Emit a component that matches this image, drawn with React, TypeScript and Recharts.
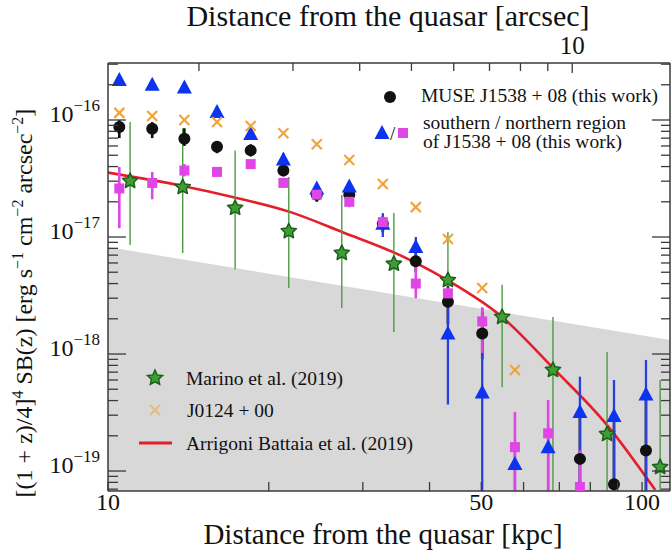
import React from 'react';
import { Area, ComposedChart, ErrorBar, Line, Scatter, XAxis, YAxis } from 'recharts';

const FONT = "'Liberation Serif', 'Times New Roman', serif";

const X_MIN = 10;
const X_MAX = 112.8;
const Y_MIN = 6.75e-20;
const Y_MAX = 3.07e-16;
const KPC_PER_ARCSEC = 7.4;
// error bars that run off the bottom of the frame
const BOTTOM = Y_MIN;

// MUSE radial bins [kpc]
const museDist = [10.5, 12.1, 13.9, 16.0, 18.5, 21.3, 24.6, 28.3, 32.7, 37.7, 43.3, 50.2, 57.8, 66.7, 76.5, 88.6, 101.7];

// MUSE J1538+08, whole nebula (black)
const museSB = [8.7e-17, 8.4e-17, 6.9e-17, 5.9e-17, 5.5e-17, 3.7e-17, 2.3e-17, 2.3e-17, 1.3e-17, 6.2e-18, 2.8e-18, 1.5e-18, null, null, 1.27e-19, 7.7e-20, 1.5e-19];
const museLo = [7.0e-17, 7.0e-17, 6.0e-17, 5.2e-17, 4.9e-17, 3.3e-17, 2.0e-17, 2.0e-17, 1.1e-17, 5.0e-18, 1.8e-18, 9.0e-19, null, null, BOTTOM, BOTTOM, BOTTOM];
const museHi = [1.0e-16, 9.6e-17, 8.5e-17, 6.6e-17, 6.2e-17, 4.2e-17, 2.7e-17, 2.6e-17, 1.5e-17, 7.5e-18, 3.8e-18, 2.3e-18, null, null, 3.5e-19, 3.0e-19, 5.0e-19];

// southern region (blue triangles)
const southSB = [2.2e-16, 2.0e-16, 1.9e-16, 1.17e-16, 7.6e-17, 4.6e-17, 2.6e-17, 2.7e-17, 1.3e-17, 8.2e-18, 1.5e-18, 4.7e-19, 1.15e-19, 1.6e-19, 3.2e-19, 2.95e-19, 4.5e-19];
const southLo = [2.0e-16, 1.8e-16, 1.7e-16, 1.05e-16, 6.8e-17, 4.1e-17, 2.3e-17, 2.4e-17, 1.0e-17, 6.5e-18, 3.7e-19, BOTTOM, BOTTOM, BOTTOM, BOTTOM, BOTTOM, BOTTOM];
const southHi = [2.4e-16, 2.2e-16, 2.1e-16, 1.3e-16, 8.4e-17, 5.2e-17, 2.9e-17, 3.0e-17, 1.6e-17, 1.0e-17, 3.3e-18, 2.5e-18, 1.45e-19, 2.4e-19, 6.4e-19, 6.0e-19, 8.9e-19];

// northern region (magenta squares)
const northSB = [2.6e-17, 2.9e-17, 3.7e-17, 3.6e-17, 4.2e-17, 2.9e-17, 2.3e-17, 2.0e-17, 1.34e-17, 4.0e-18, 3.3e-18, 1.9e-18, 1.6e-19, 2.1e-19, 7.3e-20, null, null];
const northLo = [1.19e-17, 2.1e-17, 3.3e-17, 3.3e-17, 3.9e-17, 2.7e-17, 2.1e-17, 1.8e-17, 1.2e-17, 3.0e-18, 2.8e-18, 1.02e-18, BOTTOM, BOTTOM, BOTTOM, null, null];
const northHi = [3.96e-17, 3.6e-17, 4.2e-17, 3.9e-17, 4.5e-17, 3.1e-17, 2.5e-17, 2.2e-17, 1.5e-17, 6.2e-18, 3.7e-18, 2.47e-18, 3.2e-19, 4.05e-19, 1.5e-19, null, null];

// J0124+00 (orange crosses), same bins
const j0124SB = [1.15e-16, 1.08e-16, 1.0e-16, 9.6e-17, 8.9e-17, 7.7e-17, 6.2e-17, 4.55e-17, 2.84e-17, 1.8e-17, 9.6e-18, 3.66e-18, 7.3e-19];

// Marino et al. (2019) stack (green stars)
const marinoDist = [11.0, 13.8, 17.3, 21.8, 27.4, 34.3, 43.3, 54.7, 68.1, 86.0, 108.1];
const marinoSB = [3.01e-17, 2.67e-17, 1.77e-17, 1.12e-17, 7.3e-18, 5.9e-18, 4.28e-18, 2.07e-18, 7.3e-19, 2.07e-19, 1.08e-19];
const marinoLo = [8.55e-18, 7.3e-18, 5.3e-18, 3.66e-18, 2.47e-18, 1.54e-18, 8.9e-19, 5.2e-19, BOTTOM, BOTTOM, BOTTOM];
const marinoHi = [9.6e-17, 8.5e-17, 5.5e-17, 3.26e-17, 2.29e-17, 1.6e-17, 1.1e-17, 3.9e-18, 2.07e-18, 1.04e-18, 6.0e-19];

// Arrigoni Battaia et al. (2019) profile (red curve)
const arrigoniDist = [10.0, 13.8, 17.1, 21.9, 27.5, 35.2, 43.1, 54.7, 68.1, 86.0, 105.8];
const arrigoniSB = [3.55e-17, 2.73e-17, 2.2e-17, 1.64e-17, 1.1e-17, 7.0e-18, 4.3e-18, 2.07e-18, 7.6e-19, 2.47e-19, 6.9e-20];

// grey band (surface brightness limit)
const limitDist = [10, 112.8];
const limitSB = [8.2e-18, 1.32e-18];

const xTicks = [10, 20, 30, 40, 50, 60, 70, 80, 90, 100];
const xLabels: Record<number, string> = { 10: '10', 50: '50', 100: '100' };
const arcTicks = [2, 3, 4, 5, 6, 7, 8, 9, 10];
const arcLabels: Record<number, string> = { 10: '10' };

const yTicks: number[] = [];
for (let e = -20; e <= -16; e++) {
  for (let m = 1; m <= 9; m++) {
    const v = m * Math.pow(10, e);
    if (v >= Y_MIN && v <= Y_MAX) yTicks.push(v);
  }
}

type Pt = { x: number; y: number; err?: [number, number] };

function makePoints(dist: number[], sb: (number | null)[], lo?: (number | null)[], hi?: (number | null)[]): Pt[] {
  const pts: Pt[] = [];
  dist.forEach((x, i) => {
    const y = sb[i];
    if (y == null) return;
    const p: Pt = { x, y };
    if (lo && hi && lo[i] != null && hi[i] != null) p.err = [y - (lo[i] as number), (hi[i] as number) - y];
    pts.push(p);
  });
  return pts;
}

const museData = makePoints(museDist, museSB, museLo, museHi);
const southData = makePoints(museDist, southSB, southLo, southHi);
const northData = makePoints(museDist, northSB, northLo, northHi);
const j0124Data = makePoints(museDist.slice(0, j0124SB.length), j0124SB);
const marinoData = makePoints(marinoDist, marinoSB, marinoLo, marinoHi);
const arrigoniData = makePoints(arrigoniDist, arrigoniSB);
const limitData = makePoints(limitDist, limitSB);
// same band expressed in arcsec, only to tie the top / right axes to data
const limitArcData = makePoints(limitDist.map((d) => d / KPC_PER_ARCSEC), limitSB);

const GREEN = '#3d9e34';
const GREEN_EDGE = '#1d5e1a';
const GREEN_BAR = '#4f9a45';
const BLUE = '#0b33f0';
const BLUE_BAR = '#2a3fe0';
const MAGENTA = '#e045e6';
const ORANGE = '#f2a33a';
const RED = '#e41f2a';
const AXIS = '#3a3a3a';

function starPoints(cx: number, cy: number, R: number, r: number) {
  const pts: string[] = [];
  for (let i = 0; i < 10; i++) {
    const a = -Math.PI / 2 + (i * Math.PI) / 5;
    const rad = i % 2 === 0 ? R : r;
    pts.push(`${cx + rad * Math.cos(a)},${cy + rad * Math.sin(a)}`);
  }
  return pts.join(' ');
}

const StarShape = ({ cx, cy }: any) => (
  <polygon points={starPoints(cx, cy, 8, 3.9)} fill={GREEN} stroke={GREEN_EDGE} strokeWidth={1.5} strokeLinejoin="round" />
);
const CircleShape = ({ cx, cy }: any) => <circle cx={cx} cy={cy} r={6} fill="#111" />;
const TriangleShape = ({ cx, cy }: any) => (
  <polygon points={`${cx},${cy - 8} ${cx - 7.5},${cy + 6} ${cx + 7.5},${cy + 6}`} fill={BLUE} />
);
const SquareShape = ({ cx, cy }: any) => <rect x={cx - 5} y={cy - 5} width={10} height={10} fill={MAGENTA} />;
const CrossShape = ({ cx, cy }: any) => (
  <g stroke={ORANGE} strokeWidth={2.2}>
    <line x1={cx - 5} y1={cy - 5} x2={cx + 5} y2={cy + 5} />
    <line x1={cx - 5} y1={cy + 5} x2={cx + 5} y2={cy - 5} />
  </g>
);
const NoShape = () => <g />;

const BottomTick = ({ x, y, payload }: any) => {
  const label = xLabels[payload.value];
  return (
    <g>
      <line x1={x} x2={x} y1={y} y2={y - 9} stroke={AXIS} strokeWidth={1.3} />
      {label && (
        <text x={x} y={y + 19} textAnchor="middle" fontFamily={FONT} fontSize={24} fill="#111">
          {label}
        </text>
      )}
    </g>
  );
};

const TopTick = ({ x, y, payload }: any) => {
  const label = arcLabels[payload.value];
  return (
    <g>
      <line x1={x} x2={x} y1={y} y2={y + (label ? 10 : 8)} stroke={AXIS} strokeWidth={1.3} />
      {label && (
        <text x={x} y={y - 9} textAnchor="middle" fontFamily={FONT} fontSize={25} fill="#111">
          {label}
        </text>
      )}
    </g>
  );
};

const isDecade = (v: number) => {
  const lg = Math.log10(v);
  return Math.abs(lg - Math.round(lg)) < 1e-6;
};

const LeftTick = ({ x, y, payload }: any) => {
  const major = isDecade(payload.value);
  const exp = Math.round(Math.log10(payload.value));
  return (
    <g>
      <line x1={x} x2={x + (major ? 18 : 10)} y1={y} y2={y} stroke={AXIS} strokeWidth={1.3} />
      {major && (
        <text x={x - 8} y={y + 2} textAnchor="end" fontFamily={FONT} fontSize={24} fill="#111">
          10
          <tspan dy={-11} fontSize={17}>
            {'\u2212' + String(-exp)}
          </tspan>
        </text>
      )}
    </g>
  );
};

const RightTick = ({ x, y, payload }: any) => {
  const major = isDecade(payload.value);
  return <line x1={x} x2={x - (major ? 18 : 9)} y1={y} y2={y} stroke={AXIS} strokeWidth={1.3} />;
};

export default function App() {
  const axisLine = { stroke: AXIS, strokeWidth: 1.5 };
  return (
    <div style={{ position: 'absolute', left: 0, top: 0, width: 672, height: 557, background: '#fff' }}>
      <ComposedChart width={672} height={557} margin={{ top: 33, right: 0, bottom: 36, left: 0 }}>
        <XAxis
          xAxisId={0}
          dataKey="x"
          type="number"
          scale="log"
          domain={[X_MIN, X_MAX]}
          allowDataOverflow
          ticks={xTicks}
          interval={0}
          height={30}
          tickSize={0}
          tickMargin={0}
          tickLine={false}
          axisLine={axisLine}
          tick={BottomTick}
        />
        <XAxis
          xAxisId="top"
          dataKey="x"
          orientation="top"
          type="number"
          scale="log"
          domain={[X_MIN / KPC_PER_ARCSEC, X_MAX / KPC_PER_ARCSEC]}
          allowDataOverflow
          ticks={arcTicks}
          interval={0}
          height={30}
          tickSize={0}
          tickMargin={0}
          tickLine={false}
          axisLine={axisLine}
          tick={TopTick}
        />
        <YAxis
          yAxisId={0}
          dataKey="y"
          type="number"
          scale="log"
          domain={[Y_MIN, Y_MAX]}
          allowDataOverflow
          ticks={yTicks}
          interval={0}
          width={108}
          tickSize={0}
          tickMargin={0}
          tickLine={false}
          axisLine={axisLine}
          tick={LeftTick}
        />
        <YAxis
          yAxisId="right"
          dataKey="y"
          orientation="right"
          type="number"
          scale="log"
          domain={[Y_MIN, Y_MAX]}
          allowDataOverflow
          ticks={yTicks}
          interval={0}
          width={2}
          tickSize={0}
          tickMargin={0}
          tickLine={false}
          axisLine={axisLine}
          tick={RightTick}
        />

        <Area data={limitData} dataKey="y" type="linear" fill="#d8d8d8" fillOpacity={1} stroke="none" isAnimationActive={false} />
        <Scatter data={limitArcData} dataKey="y" xAxisId="top" yAxisId="right" shape={NoShape} isAnimationActive={false} />
        <Line data={arrigoniData} dataKey="y" type="monotone" stroke={RED} strokeWidth={2.6} dot={false} isAnimationActive={false} />

        <Scatter data={marinoData} dataKey="y" shape={StarShape} isAnimationActive={false}>
          <ErrorBar dataKey="err" direction="y" width={0} stroke={GREEN_BAR} strokeWidth={1.4} isAnimationActive={false} />
        </Scatter>
        <Scatter data={museData} dataKey="y" shape={CircleShape} isAnimationActive={false}>
          <ErrorBar dataKey="err" direction="y" width={0} stroke="#111" strokeWidth={2.6} isAnimationActive={false} />
        </Scatter>
        <Scatter data={southData} dataKey="y" shape={TriangleShape} isAnimationActive={false}>
          <ErrorBar dataKey="err" direction="y" width={0} stroke={BLUE_BAR} strokeWidth={2.3} isAnimationActive={false} />
        </Scatter>
        <Scatter data={northData} dataKey="y" shape={SquareShape} isAnimationActive={false}>
          <ErrorBar dataKey="err" direction="y" width={0} stroke={MAGENTA} strokeWidth={2.6} isAnimationActive={false} />
        </Scatter>
        <Scatter data={j0124Data} dataKey="y" shape={CrossShape} isAnimationActive={false} />
      </ComposedChart>

      <svg
        width={672}
        height={557}
        style={{ position: 'absolute', left: 0, top: 0, pointerEvents: 'none' }}
        fontFamily={FONT}
        fill="#111"
      >
        <text x={388} y={26} textAnchor="middle" fontSize={30}>
          Distance from the quasar [arcsec]
        </text>
        <text x={383} y={544} textAnchor="middle" fontSize={29}>
          Distance from the quasar [kpc]
        </text>
        <text transform="rotate(-90)" x={-303} y={32} textAnchor="middle" fontSize={24}>
          [(1 + z)/4]
          <tspan dy={-9} fontSize={16}>4</tspan>
          <tspan dy={9}> SB(z) [erg s</tspan>
          <tspan dy={-9} fontSize={16}>{'\u22121'}</tspan>
          <tspan dy={9}> cm</tspan>
          <tspan dy={-9} fontSize={16}>{'\u22122'}</tspan>
          <tspan dy={9}> arcsec</tspan>
          <tspan dy={-9} fontSize={16}>{'\u22122'}</tspan>
          <tspan dy={9}>]</tspan>
        </text>

        {/* upper-right legend */}
        <circle cx={390} cy={97} r={6} fill="#111" />
        <text x={421} y={102} fontSize={19.5}>
          MUSE J1538 + 08 (this work)
        </text>
        <polygon points="382,125 374.5,139 389.5,139" fill={BLUE} />
        <text x={390} y={140} fontSize={19}>/</text>
        <rect x={398} y={128} width={10} height={10} fill={MAGENTA} />
        <text x={423} y={129} fontSize={19.5}>
          southern / northern region
        </text>
        <text x={423} y={148} fontSize={19.5}>
          of J1538 + 08 (this work)
        </text>

        {/* lower-left legend */}
        <polygon points={starPoints(155, 378, 8, 3.8)} fill={GREEN} stroke={GREEN_EDGE} strokeWidth={1.4} />
        <text x={186} y={385} fontSize={19.5}>
          Marino et al. (2019)
        </text>
        <g stroke={ORANGE} strokeWidth={2.2} opacity={0.55}>
          <line x1={150} y1={405} x2={160} y2={415} />
          <line x1={150} y1={415} x2={160} y2={405} />
        </g>
        <text x={187} y={417} fontSize={19.5}>
          J0124 + 00
        </text>
        <line x1={139} x2={172} y1={443} y2={443} stroke={RED} strokeWidth={3} />
        <text x={186} y={450} fontSize={19.5}>
          Arrigoni Battaia et al. (2019)
        </text>
      </svg>
    </div>
  );
}
